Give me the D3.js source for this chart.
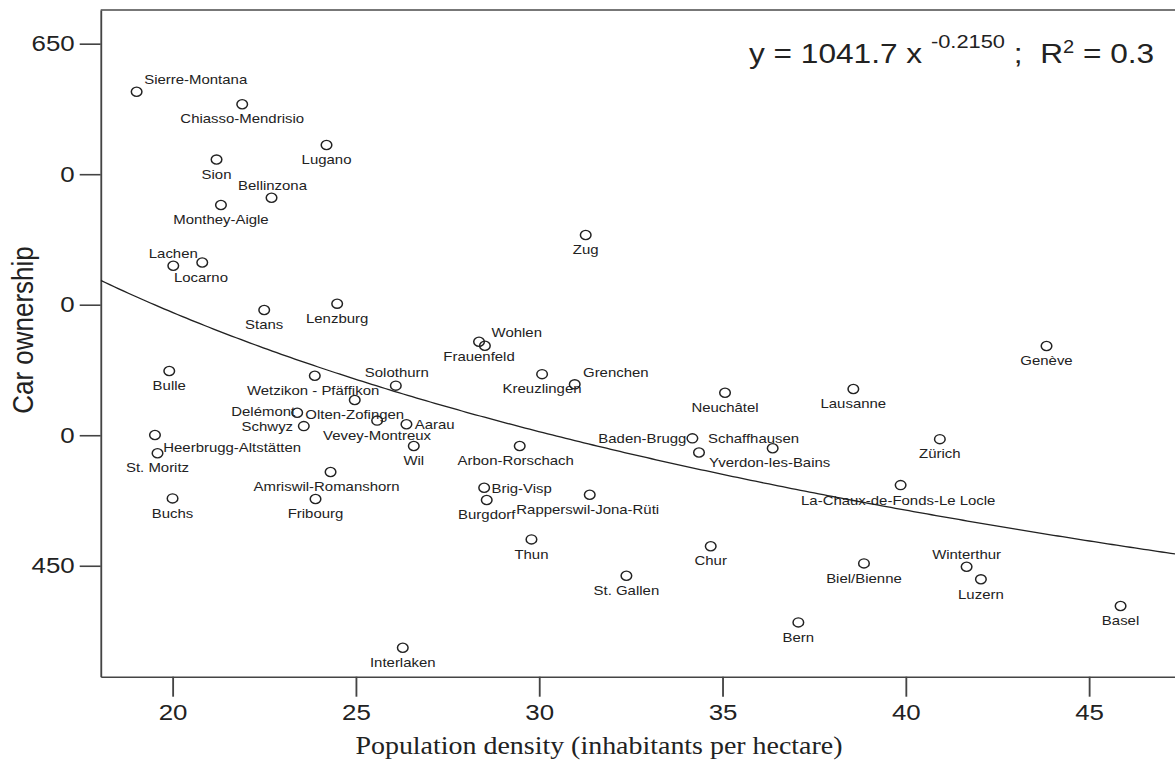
<!DOCTYPE html>
<html><head><meta charset="utf-8">
<script src="https://cdn.jsdelivr.net/npm/d3@7"></script>
<style>html,body{margin:0;padding:0;background:#fff;} svg{display:block;}</style>
</head><body>
<svg id="chart" width="1175" height="774"></svg>
<script>
// ---------------- data ----------------
const cities = ["Sierre-Montana","Chiasso-Mendrisio","Lugano","Sion","Bellinzona","Monthey-Aigle","Zug","Lachen","Locarno","Stans","Lenzburg","Frauenfeld","Wohlen","Genève","Bulle","Wetzikon - Pfäffikon","Solothurn","Kreuzlingen","Grenchen","Neuchâtel","Lausanne","Olten-Zofingen","Delémont","Schwyz","Vevey-Montreux","Aarau","Heerbrugg-Altstätten","St. Moritz","Wil","Arbon-Rorschach","Baden-Brugg","Schaffhausen","Yverdon-les-Bains","Zürich","Amriswil-Romanshorn","Brig-Visp","Burgdorf","Rapperswil-Jona-Rüti","La-Chaux-de-Fonds-Le Locle","Fribourg","Buchs","Thun","Chur","Biel/Bienne","Winterthur","Luzern","St. Gallen","Basel","Bern","Interlaken"];
const density = [19.02,21.90,24.20,21.20,22.70,21.32,31.27,20.02,20.81,22.50,24.49,28.36,28.52,43.84,19.91,23.88,26.09,30.08,30.97,35.07,38.57,24.97,23.40,23.58,25.58,26.38,19.52,19.59,26.58,29.47,34.18,34.36,36.37,40.93,24.31,28.50,28.57,31.38,39.86,23.90,20.00,29.79,34.68,38.86,41.66,42.05,32.38,45.86,37.07,26.28];
const carOwnership = [631.6,626.8,611.2,605.6,591.0,588.2,576.7,564.9,566.2,548.0,550.4,535.8,534.3,534.2,524.6,522.8,519.0,523.4,519.5,516.3,517.7,513.5,508.6,503.5,505.6,504.2,500.1,493.1,495.9,495.9,498.8,493.4,495.0,498.5,485.9,479.9,475.2,477.2,480.9,475.6,475.8,460.1,457.5,450.9,449.6,444.8,446.2,434.6,428.3,418.6];
const xTicks = [20,25,30,35,40,45];
const xTickLabels = ["20","25","30","35","40","45"];
const yTicks = [650,600,550,500,450];
const yTickLabels = ["650","0","0","0","450"];
const fitA = 1041.7, fitB = -0.2150;
const fitText = {lead:"y = 1041.7 x ", exp:"-0.2150", mid:" ;  R", sq:"2", tail:" = 0.3"};
const xTitle = "Population density (inhabitants per hectare)";
const yTitle = "Car ownership";

(function () {
// ---------------- layout / style ----------------
const SX = 1.15;                 // horizontal stretch of the reference picture
const W = 1175 / SX, H = 774;
const svg = d3.select("#chart").attr("viewBox", `0 0 ${W} ${H}`).attr("preserveAspectRatio", "none");
const leftX = 100.7, topY = 10, bottomY = 676.7;
const x = d3.scaleLinear().domain([18.04, 47.6]).range([leftX / SX, (leftX + (47.6 - 18.04) * 36.66) / SX]);
const y = d3.scaleLinear().domain([407.5, 662.9]).range([bottomY, topY]);
const sans = "Arial, 'Liberation Sans', Helvetica, sans-serif";
const ink = "#222";

// label placement: [anchor, dx(px), dy(px)] relative to the marker
const place = {
  "Sierre-Montana":["start",7.6,-12.7], "Bellinzona":["middle",1,-12.7], "Lachen":["middle",0,-12.4],
  "Wohlen":["start",6.7,-13.7], "Solothurn":["middle",1,-13], "Grenchen":["start",8.3,-11.6],
  "Delémont":["end",-2,-1], "Schwyz":["end",-10.7,0], "Aarau":["start",8.3,0],
  "Heerbrugg-Altstätten":["start",8.3,12.7], "Brig-Visp":["start",7.4,0.6], "Baden-Brugg":["end",-6,0],
  "Schaffhausen":["start",9,-14], "Winterthur":["middle",0,-12.7], "Locarno":["middle",-1.3,14.7],
  "Arbon-Rorschach":["middle",-4,14.7], "Rapperswil-Jona-Rüti":["middle",-2,14.6],
  "Yverdon-les-Bains":["middle",-3,14.4], "La-Chaux-de-Fonds-Le Locle":["middle",-2.4,15],
  "Wetzikon - Pfäffikon":["middle",-1.7,14.3], "Amriswil-Romanshorn":["middle",-4,14]
};

svg.append("defs").append("clipPath").attr("id","plotclip").append("rect")
  .attr("x", leftX / SX).attr("y", topY).attr("width", W).attr("height", bottomY - topY);

// top frame line
svg.append("line").attr("x1", leftX / SX).attr("x2", W + 5).attr("y1", topY).attr("y2", topY)
  .attr("stroke", "#777").attr("stroke-width", 2);

// axes
const yAxis = d3.axisLeft(y).tickValues(yTicks).tickSize(21 / SX).tickSizeOuter(0).tickPadding(5 / SX)
  .tickFormat((d) => yTickLabels[yTicks.indexOf(d)]);
const gy = svg.append("g").attr("transform", `translate(${leftX / SX},0)`).call(yAxis);
const xAxis = d3.axisBottom(x).tickValues(xTicks).tickSize(20).tickSizeOuter(0).tickPadding(7)
  .tickFormat((d) => xTickLabels[xTicks.indexOf(d)]);
const gx = svg.append("g").attr("transform", `translate(0,${bottomY})`).call(xAxis);
[gx, gy].forEach(g => {
  g.selectAll("path,line").attr("stroke", "#444").attr("stroke-width", 1.6);
  g.selectAll("text").attr("fill", ink).style("font-family", sans).style("font-size", "22.5px");
});

// fit curve
const [d0, d1] = x.domain();
const samples = d3.range(0, 241).map(i => d0 + (d1 - d0) * i / 240);
svg.append("path").attr("clip-path", "url(#plotclip)")
  .attr("d", d3.line().x(v => x(v)).y(v => y(fitA * Math.pow(v, fitB)))(samples))
  .attr("fill", "none").attr("stroke", ink).attr("stroke-width", 1.3);

// points
const pts = cities.map((c, i) => ({c, px: density[i], py: carOwnership[i]}));
svg.append("g").selectAll("circle").data(pts).join("circle")
  .attr("cx", d => x(d.px)).attr("cy", d => y(d.py)).attr("r", 4.6)
  .attr("fill", "none").attr("stroke", ink).attr("stroke-width", 1.3);

svg.append("g").selectAll("text").data(pts).join("text")
  .attr("x", d => x(d.px) + (place[d.c] ? place[d.c][1] : 0) / SX)
  .attr("y", d => y(d.py) + (place[d.c] ? place[d.c][2] : 14.5))
  .attr("dy", "0.36em")
  .attr("text-anchor", d => place[d.c] ? place[d.c][0] : "middle")
  .attr("fill", ink).style("font-family", sans).style("font-size", "13px")
  .text(d => d.c);

// equation
const eq = svg.append("text").attr("x", 749 / SX).attr("y", 63).attr("fill", ink)
  .style("font-family", sans).style("font-size", "27.5px").style("white-space", "pre");
eq.append("tspan").text(fitText.lead);
eq.append("tspan").attr("dy", -15).style("font-size", "19px").text(fitText.exp);
eq.append("tspan").attr("dy", 15).text(fitText.mid);
eq.append("tspan").attr("dy", -10).style("font-size", "17.5px").text(fitText.sq);
eq.append("tspan").attr("dy", 10).text(fitText.tail);

// titles
svg.append("text").attr("transform", `translate(${33 / SX},330) rotate(-90)`).attr("text-anchor", "middle")
  .attr("fill", ink).style("font-family", sans).style("font-size", "26px").text(yTitle);
svg.append("text").attr("x", 599 / SX).attr("y", 754).attr("text-anchor", "middle")
  .attr("fill", ink).style("font-family", "'Times New Roman', 'Liberation Serif', serif").style("font-size", "24.3px").text(xTitle);
})();
</script>
</body></html>
